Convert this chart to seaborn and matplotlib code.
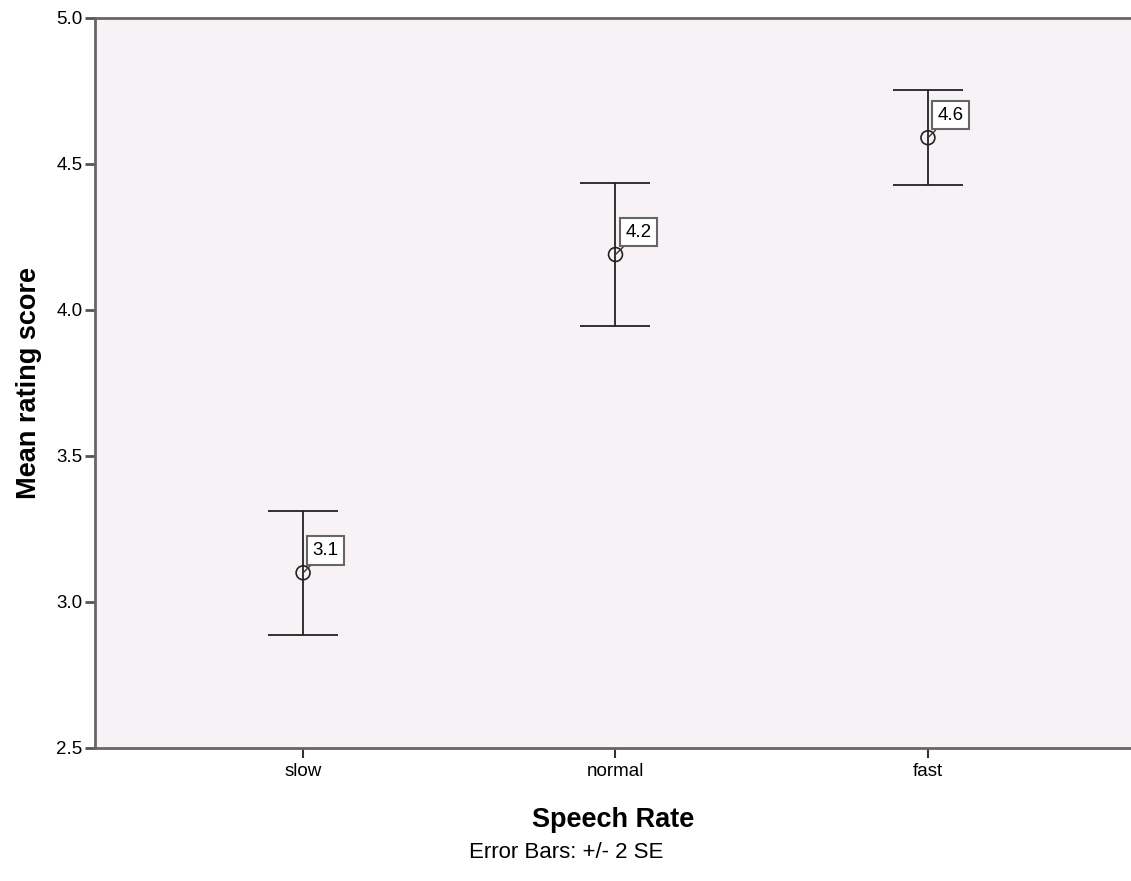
import matplotlib
matplotlib.use("Agg")
import matplotlib.pyplot as plt
import seaborn as sns
import pandas as pd
from matplotlib.ticker import FormatStrFormatter

# Data
categories = ["slow", "normal", "fast"]
means = [3.10, 4.19, 4.59]
err_2se = [0.213, 0.245, 0.163]
labels = ["3.1", "4.2", "4.6"]
y_ticks = [2.5, 3.0, 3.5, 4.0, 4.5, 5.0]

sns.set_theme(style="white")
plt.rcParams['font.family'] = ['Liberation Sans', 'DejaVu Sans']

fig = plt.figure(figsize=(11.31, 8.81), dpi=100)
ax = fig.add_axes([95/1131, 1 - 748/881, 1 - 95/1131, (748 - 18)/881])
ax.set_facecolor("#F7F2F6")

df = pd.DataFrame({"rate": categories, "mean": means, "err": err_2se})

ax.errorbar(df["rate"], df["mean"], yerr=df["err"], fmt="none",
            ecolor="#222222", elinewidth=1.3, capsize=25.5, capthick=1.3, zorder=2)
sns.scatterplot(data=df, x="rate", y="mean", ax=ax, marker="o", s=100,
                facecolor="none", edgecolor="#222222", linewidth=1.2, zorder=3,
                legend=False)

for i, (m, lab) in enumerate(zip(means, labels)):
    ax.annotate(lab, xy=(i, m), xytext=(7, 10), textcoords="offset points",
                fontsize=13.5, color="black", ha="left", va="bottom",
                bbox=dict(boxstyle="square,pad=0.3", facecolor="white",
                          edgecolor="#666666", linewidth=1.5),
                arrowprops=dict(arrowstyle="-", color="#333333", lw=1,
                                shrinkA=0, shrinkB=0),
                zorder=4)

ax.set_xlim(-0.666, 2.65)
ax.set_ylim(2.5, 5.0)
ax.set_yticks(y_ticks)
ax.yaxis.set_major_formatter(FormatStrFormatter("%.1f"))

for side in ["left", "bottom", "top"]:
    ax.spines[side].set_color("#666666")
    ax.spines[side].set_linewidth(2.0)
ax.spines["right"].set_visible(False)

ax.tick_params(axis="y", which="major", direction="out", length=7, width=2,
               color="#555555", labelsize=13.5, labelcolor="black", pad=2, left=True)
ax.tick_params(axis="x", which="major", direction="out", length=7, width=1.5,
               color="#333333", labelsize=13.5, labelcolor="black", pad=4, bottom=True)

ax.set_xlabel("Speech Rate", fontsize=19.5, fontweight="bold", labelpad=19, color="black")
ax.set_ylabel("Mean rating score", fontsize=19.5, fontweight="bold", labelpad=10, color="black")

fig.text(566/1131, 1 - 853/881, "Error Bars: +/- 2 SE", fontsize=16,
         ha="center", va="center", color="black")

fig.savefig("out.png", dpi=100, facecolor="white")
